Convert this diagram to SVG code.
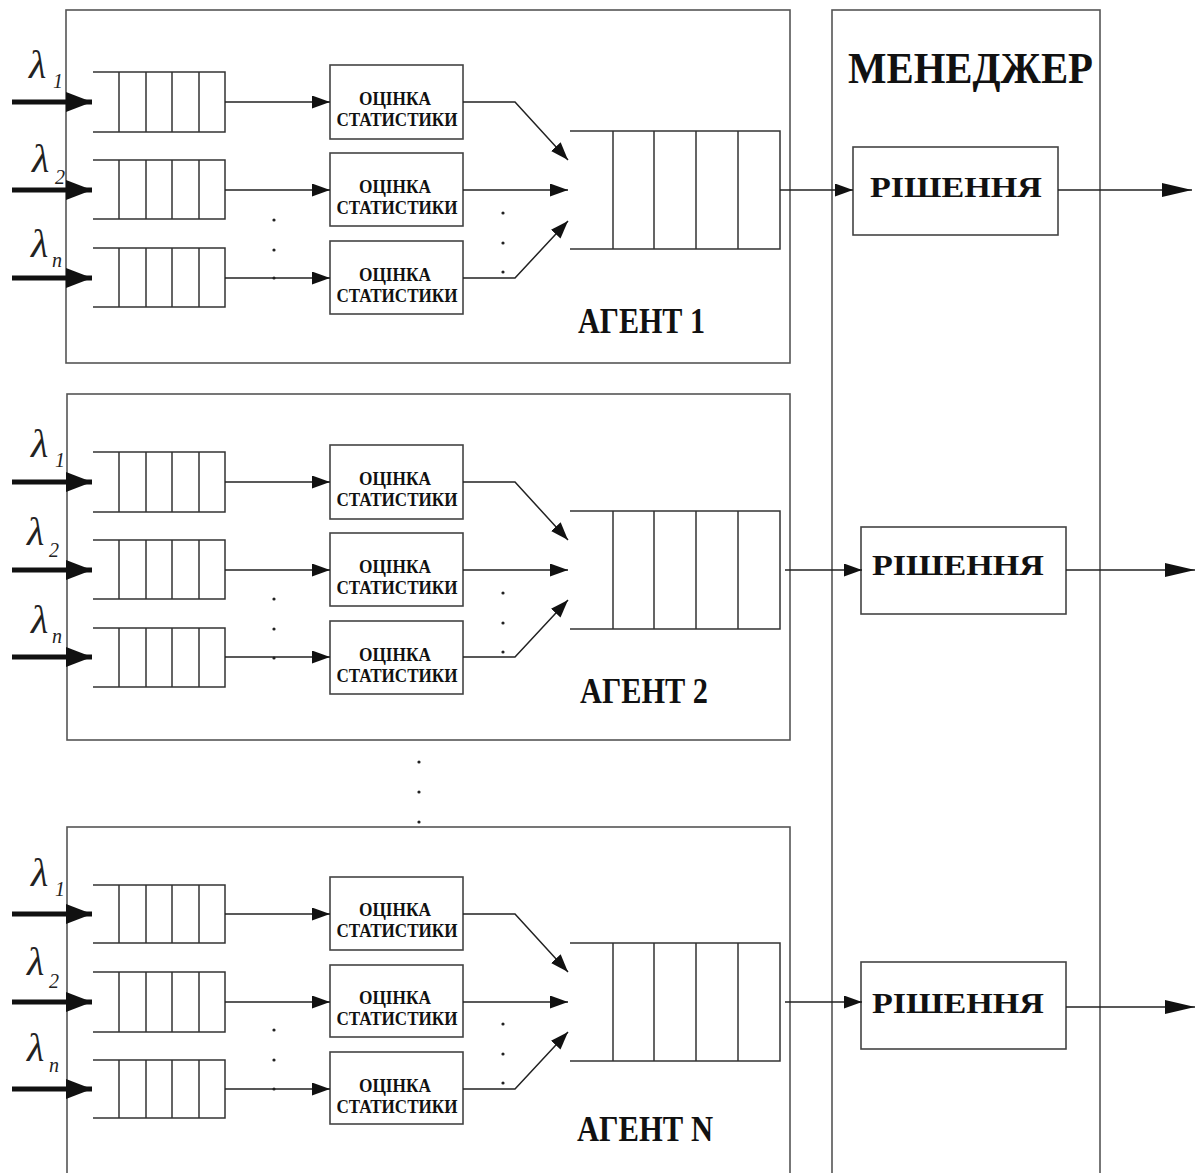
<svg xmlns="http://www.w3.org/2000/svg" width="1198" height="1173" viewBox="0 0 1198 1173">
  <style>
    .frame { fill: none; stroke: #555; stroke-width: 1.6; }
    .box { fill: #fff; stroke: #444; stroke-width: 1.6; }
    .queue { fill: none; stroke: #333; stroke-width: 1.5; }
    .link { fill: none; stroke: #222; stroke-width: 1.5; }
    .feed { fill: none; stroke: #111; stroke-width: 5; }
    .dot { fill: #222; }
    .lbl { font-family: "Liberation Serif", "Times New Roman", serif; font-weight: bold; fill: #111; }
    .stat { font-size: 18.5px; text-anchor: middle; }
    .lam { font-family: "Liberation Serif", "Times New Roman", serif; font-style: italic; fill: #222; }
    .greek { font-size: 40px; }
    .sub { font-size: 20px; }
  </style>
  <defs>
    <marker id="ah" markerUnits="userSpaceOnUse" markerWidth="18" markerHeight="13" refX="18" refY="6.5" orient="auto">
      <path d="M0,0 L18,6.5 L0,13 Z" fill="#111"/>
    </marker>
    <marker id="ahBig" markerUnits="userSpaceOnUse" markerWidth="30" markerHeight="14" refX="30" refY="7" orient="auto">
      <path d="M0,0 L30,7 L0,14 Z" fill="#111"/>
    </marker>
    <marker id="ahFeed" markerUnits="userSpaceOnUse" markerWidth="26" markerHeight="20" refX="26" refY="10" orient="auto">
      <path d="M0,0 L26,10 L0,20 Z" fill="#111"/>
    </marker>
  </defs>

  <rect width="1198" height="1173" fill="#fff"/>

  <!-- manager column -->
  <g id="manager">
    <rect class="frame" x="832" y="10" width="268" height="1200"/>
    <text class="lbl" x="848" y="83" font-size="44" textLength="245" lengthAdjust="spacingAndGlyphs">МЕНЕДЖЕР</text>
  </g>

  <!-- decision blocks -->
  <g id="decision-1">
    <rect class="box" x="853" y="147" width="205" height="88"/>
    <text class="lbl" x="870" y="197" font-size="29" textLength="172" lengthAdjust="spacingAndGlyphs">РІШЕННЯ</text>
  </g>
  <g id="decision-2">
    <rect class="box" x="861" y="527" width="205" height="87"/>
    <text class="lbl" x="872" y="575" font-size="29" textLength="172" lengthAdjust="spacingAndGlyphs">РІШЕННЯ</text>
  </g>
  <g id="decision-n">
    <rect class="box" x="861" y="962" width="205" height="87"/>
    <text class="lbl" x="872" y="1013" font-size="29" textLength="172" lengthAdjust="spacingAndGlyphs">РІШЕННЯ</text>
  </g>

  <!-- agent 1 -->
  <g id="agent-1">
    <rect class="frame" x="66" y="10" width="724" height="353"/>
    <g id="a1-queues">
      <path class="queue" d="M93,72 H225 V132 H93 M119,72 V132 M146,72 V132 M172,72 V132 M199,72 V132"/>
      <path class="queue" d="M93,160 H225 V219 H93 M119,160 V219 M146,160 V219 M172,160 V219 M199,160 V219"/>
      <path class="queue" d="M93,248 H225 V307 H93 M119,248 V307 M146,248 V307 M172,248 V307 M199,248 V307"/>
    </g>
    <g id="a1-stat-1">
      <rect class="box" x="330" y="65" width="133" height="74"/>
      <text class="lbl stat" x="395" y="105" textLength="72" lengthAdjust="spacingAndGlyphs">ОЦІНКА</text>
      <text class="lbl stat" x="397" y="126" textLength="121" lengthAdjust="spacingAndGlyphs">СТАТИСТИКИ</text>
    </g>
    <g id="a1-stat-2">
      <rect class="box" x="330" y="153" width="133" height="73"/>
      <text class="lbl stat" x="395" y="193" textLength="72" lengthAdjust="spacingAndGlyphs">ОЦІНКА</text>
      <text class="lbl stat" x="397" y="214" textLength="121" lengthAdjust="spacingAndGlyphs">СТАТИСТИКИ</text>
    </g>
    <g id="a1-stat-n">
      <rect class="box" x="330" y="241" width="133" height="73"/>
      <text class="lbl stat" x="395" y="281" textLength="72" lengthAdjust="spacingAndGlyphs">ОЦІНКА</text>
      <text class="lbl stat" x="397" y="302" textLength="121" lengthAdjust="spacingAndGlyphs">СТАТИСТИКИ</text>
    </g>
    <g id="a1-buffer">
      <path class="queue" d="M570,131 H780 V249 H570 M613,131 V249 M654,131 V249 M696,131 V249 M738,131 V249"/>
    </g>
    <g id="a1-labels">
      <text class="lam greek" x="29" y="78">λ</text>
      <text class="lam sub" x="53" y="88">1</text>
      <text class="lam greek" x="32" y="172">λ</text>
      <text class="lam sub" x="55" y="184">2</text>
      <text class="lam greek" x="31" y="257">λ</text>
      <text class="lam sub" x="52" y="267">n</text>
      <text class="lbl" x="578" y="333" font-size="36" textLength="127" lengthAdjust="spacingAndGlyphs">АГЕНТ 1</text>
    </g>
    <g id="a1-dots">
      <circle class="dot" cx="274" cy="220" r="1.6"/>
      <circle class="dot" cx="274" cy="250" r="1.6"/>
      <circle class="dot" cx="274" cy="278" r="1.6"/>
      <circle class="dot" cx="503" cy="213" r="1.6"/>
      <circle class="dot" cx="503" cy="243" r="1.6"/>
      <circle class="dot" cx="503" cy="272" r="1.6"/>
    </g>
  </g>

  <!-- agent 2 -->
  <g id="agent-2">
    <rect class="frame" x="67" y="394" width="723" height="346"/>
    <g transform="translate(0,380)">
      <g id="a2-queues">
        <path class="queue" d="M93,72 H225 V132 H93 M119,72 V132 M146,72 V132 M172,72 V132 M199,72 V132"/>
        <path class="queue" d="M93,160 H225 V219 H93 M119,160 V219 M146,160 V219 M172,160 V219 M199,160 V219"/>
        <path class="queue" d="M93,248 H225 V307 H93 M119,248 V307 M146,248 V307 M172,248 V307 M199,248 V307"/>
      </g>
      <g id="a2-stat-1">
        <rect class="box" x="330" y="65" width="133" height="74"/>
        <text class="lbl stat" x="395" y="105" textLength="72" lengthAdjust="spacingAndGlyphs">ОЦІНКА</text>
        <text class="lbl stat" x="397" y="126" textLength="121" lengthAdjust="spacingAndGlyphs">СТАТИСТИКИ</text>
      </g>
      <g id="a2-stat-2">
        <rect class="box" x="330" y="153" width="133" height="73"/>
        <text class="lbl stat" x="395" y="193" textLength="72" lengthAdjust="spacingAndGlyphs">ОЦІНКА</text>
        <text class="lbl stat" x="397" y="214" textLength="121" lengthAdjust="spacingAndGlyphs">СТАТИСТИКИ</text>
      </g>
      <g id="a2-stat-n">
        <rect class="box" x="330" y="241" width="133" height="73"/>
        <text class="lbl stat" x="395" y="281" textLength="72" lengthAdjust="spacingAndGlyphs">ОЦІНКА</text>
        <text class="lbl stat" x="397" y="302" textLength="121" lengthAdjust="spacingAndGlyphs">СТАТИСТИКИ</text>
      </g>
      <g id="a2-buffer">
        <path class="queue" d="M570,131 H780 V249 H570 M613,131 V249 M654,131 V249 M696,131 V249 M738,131 V249"/>
      </g>
      <g id="a2-labels">
        <text class="lam greek" x="31" y="77">λ</text>
        <text class="lam sub" x="55" y="87">1</text>
        <text class="lam greek" x="27" y="165">λ</text>
        <text class="lam sub" x="49" y="177">2</text>
        <text class="lam greek" x="31" y="253">λ</text>
        <text class="lam sub" x="52" y="263">n</text>
        <text class="lbl" x="580" y="323" font-size="36" textLength="128" lengthAdjust="spacingAndGlyphs">АГЕНТ 2</text>
      </g>
      <g id="a2-dots">
        <circle class="dot" cx="274" cy="219" r="1.6"/>
        <circle class="dot" cx="274" cy="249" r="1.6"/>
        <circle class="dot" cx="274" cy="278" r="1.6"/>
        <circle class="dot" cx="503" cy="213" r="1.6"/>
        <circle class="dot" cx="503" cy="243" r="1.6"/>
        <circle class="dot" cx="503" cy="272" r="1.6"/>
      </g>
    </g>
  </g>

  <!-- gap between agent 2 and agent N -->
  <g id="more-agents">
    <circle class="dot" cx="419" cy="762" r="1.6"/>
    <circle class="dot" cx="419" cy="792" r="1.6"/>
    <circle class="dot" cx="419" cy="822" r="1.6"/>
  </g>

  <!-- agent N -->
  <g id="agent-n">
    <rect class="frame" x="67" y="827" width="723" height="400"/>
    <g transform="translate(0,812)">
      <g id="an-queues">
        <path class="queue" d="M93,73 H225 V131 H93 M119,73 V131 M146,73 V131 M172,73 V131 M199,73 V131"/>
        <path class="queue" d="M93,160 H225 V220 H93 M119,160 V220 M146,160 V220 M172,160 V220 M199,160 V220"/>
        <path class="queue" d="M93,248 H225 V306 H93 M119,248 V306 M146,248 V306 M172,248 V306 M199,248 V306"/>
      </g>
      <g id="an-stat-1">
        <rect class="box" x="330" y="65" width="133" height="73"/>
        <text class="lbl stat" x="395" y="104" textLength="72" lengthAdjust="spacingAndGlyphs">ОЦІНКА</text>
        <text class="lbl stat" x="397" y="125" textLength="121" lengthAdjust="spacingAndGlyphs">СТАТИСТИКИ</text>
      </g>
      <g id="an-stat-2">
        <rect class="box" x="330" y="153" width="133" height="72"/>
        <text class="lbl stat" x="395" y="192" textLength="72" lengthAdjust="spacingAndGlyphs">ОЦІНКА</text>
        <text class="lbl stat" x="397" y="213" textLength="121" lengthAdjust="spacingAndGlyphs">СТАТИСТИКИ</text>
      </g>
      <g id="an-stat-n">
        <rect class="box" x="330" y="240" width="133" height="72"/>
        <text class="lbl stat" x="395" y="280" textLength="72" lengthAdjust="spacingAndGlyphs">ОЦІНКА</text>
        <text class="lbl stat" x="397" y="301" textLength="121" lengthAdjust="spacingAndGlyphs">СТАТИСТИКИ</text>
      </g>
      <g id="an-buffer">
        <path class="queue" d="M570,131 H780 V249 H570 M613,131 V249 M654,131 V249 M696,131 V249 M738,131 V249"/>
      </g>
      <g id="an-labels">
        <text class="lam greek" x="31" y="74">λ</text>
        <text class="lam sub" x="55" y="84">1</text>
        <text class="lam greek" x="27" y="163">λ</text>
        <text class="lam sub" x="49" y="176">2</text>
        <text class="lam greek" x="27" y="249">λ</text>
        <text class="lam sub" x="49" y="260">n</text>
        <text class="lbl" x="577" y="329" font-size="36" textLength="136" lengthAdjust="spacingAndGlyphs">АГЕНТ N</text>
      </g>
      <g id="an-dots">
        <circle class="dot" cx="274" cy="218" r="1.6"/>
        <circle class="dot" cx="274" cy="248" r="1.6"/>
        <circle class="dot" cx="274" cy="277" r="1.6"/>
        <circle class="dot" cx="503" cy="212" r="1.6"/>
        <circle class="dot" cx="503" cy="242" r="1.6"/>
        <circle class="dot" cx="503" cy="271" r="1.6"/>
      </g>
    </g>
  </g>

  <!-- connectors -->
  <g id="connectors">
    <g id="a1-links">
      <line class="feed" x1="12" y1="102" x2="92" y2="102" marker-end="url(#ahFeed)"/>
      <line class="feed" x1="12" y1="190" x2="92" y2="190" marker-end="url(#ahFeed)"/>
      <line class="feed" x1="12" y1="278" x2="92" y2="278" marker-end="url(#ahFeed)"/>
      <line class="link" x1="225" y1="102" x2="330" y2="102" marker-end="url(#ah)"/>
      <line class="link" x1="225" y1="190" x2="330" y2="190" marker-end="url(#ah)"/>
      <line class="link" x1="225" y1="278" x2="330" y2="278" marker-end="url(#ah)"/>
      <polyline class="link" points="463,102 515,102 568,160" marker-end="url(#ah)"/>
      <line class="link" x1="463" y1="190" x2="568" y2="190" marker-end="url(#ah)"/>
      <polyline class="link" points="463,278 515,278 568,221" marker-end="url(#ah)"/>
      <line class="link" x1="780" y1="190" x2="853" y2="190" marker-end="url(#ah)"/>
      <line class="link" x1="1058" y1="190" x2="1192" y2="190" marker-end="url(#ahBig)"/>
    </g>
    <g id="a2-links">
      <line class="feed" x1="12" y1="482" x2="92" y2="482" marker-end="url(#ahFeed)"/>
      <line class="feed" x1="12" y1="570" x2="92" y2="570" marker-end="url(#ahFeed)"/>
      <line class="feed" x1="12" y1="657" x2="92" y2="657" marker-end="url(#ahFeed)"/>
      <line class="link" x1="225" y1="482" x2="330" y2="482" marker-end="url(#ah)"/>
      <line class="link" x1="225" y1="570" x2="330" y2="570" marker-end="url(#ah)"/>
      <line class="link" x1="225" y1="657" x2="330" y2="657" marker-end="url(#ah)"/>
      <polyline class="link" points="463,482 515,482 568,540" marker-end="url(#ah)"/>
      <line class="link" x1="463" y1="570" x2="568" y2="570" marker-end="url(#ah)"/>
      <polyline class="link" points="463,657 515,657 568,600" marker-end="url(#ah)"/>
      <line class="link" x1="785" y1="570" x2="862" y2="570" marker-end="url(#ah)"/>
      <line class="link" x1="1066" y1="570" x2="1195" y2="570" marker-end="url(#ahBig)"/>
    </g>
    <g id="an-links">
      <line class="feed" x1="12" y1="914" x2="92" y2="914" marker-end="url(#ahFeed)"/>
      <line class="feed" x1="12" y1="1002" x2="92" y2="1002" marker-end="url(#ahFeed)"/>
      <line class="feed" x1="12" y1="1089" x2="92" y2="1089" marker-end="url(#ahFeed)"/>
      <line class="link" x1="225" y1="914" x2="330" y2="914" marker-end="url(#ah)"/>
      <line class="link" x1="225" y1="1002" x2="330" y2="1002" marker-end="url(#ah)"/>
      <line class="link" x1="225" y1="1089" x2="330" y2="1089" marker-end="url(#ah)"/>
      <polyline class="link" points="463,914 515,914 568,972" marker-end="url(#ah)"/>
      <line class="link" x1="463" y1="1002" x2="568" y2="1002" marker-end="url(#ah)"/>
      <polyline class="link" points="463,1089 515,1089 568,1032" marker-end="url(#ah)"/>
      <line class="link" x1="785" y1="1002" x2="862" y2="1002" marker-end="url(#ah)"/>
      <line class="link" x1="1066" y1="1007" x2="1195" y2="1007" marker-end="url(#ahBig)"/>
    </g>
  </g>
</svg>
